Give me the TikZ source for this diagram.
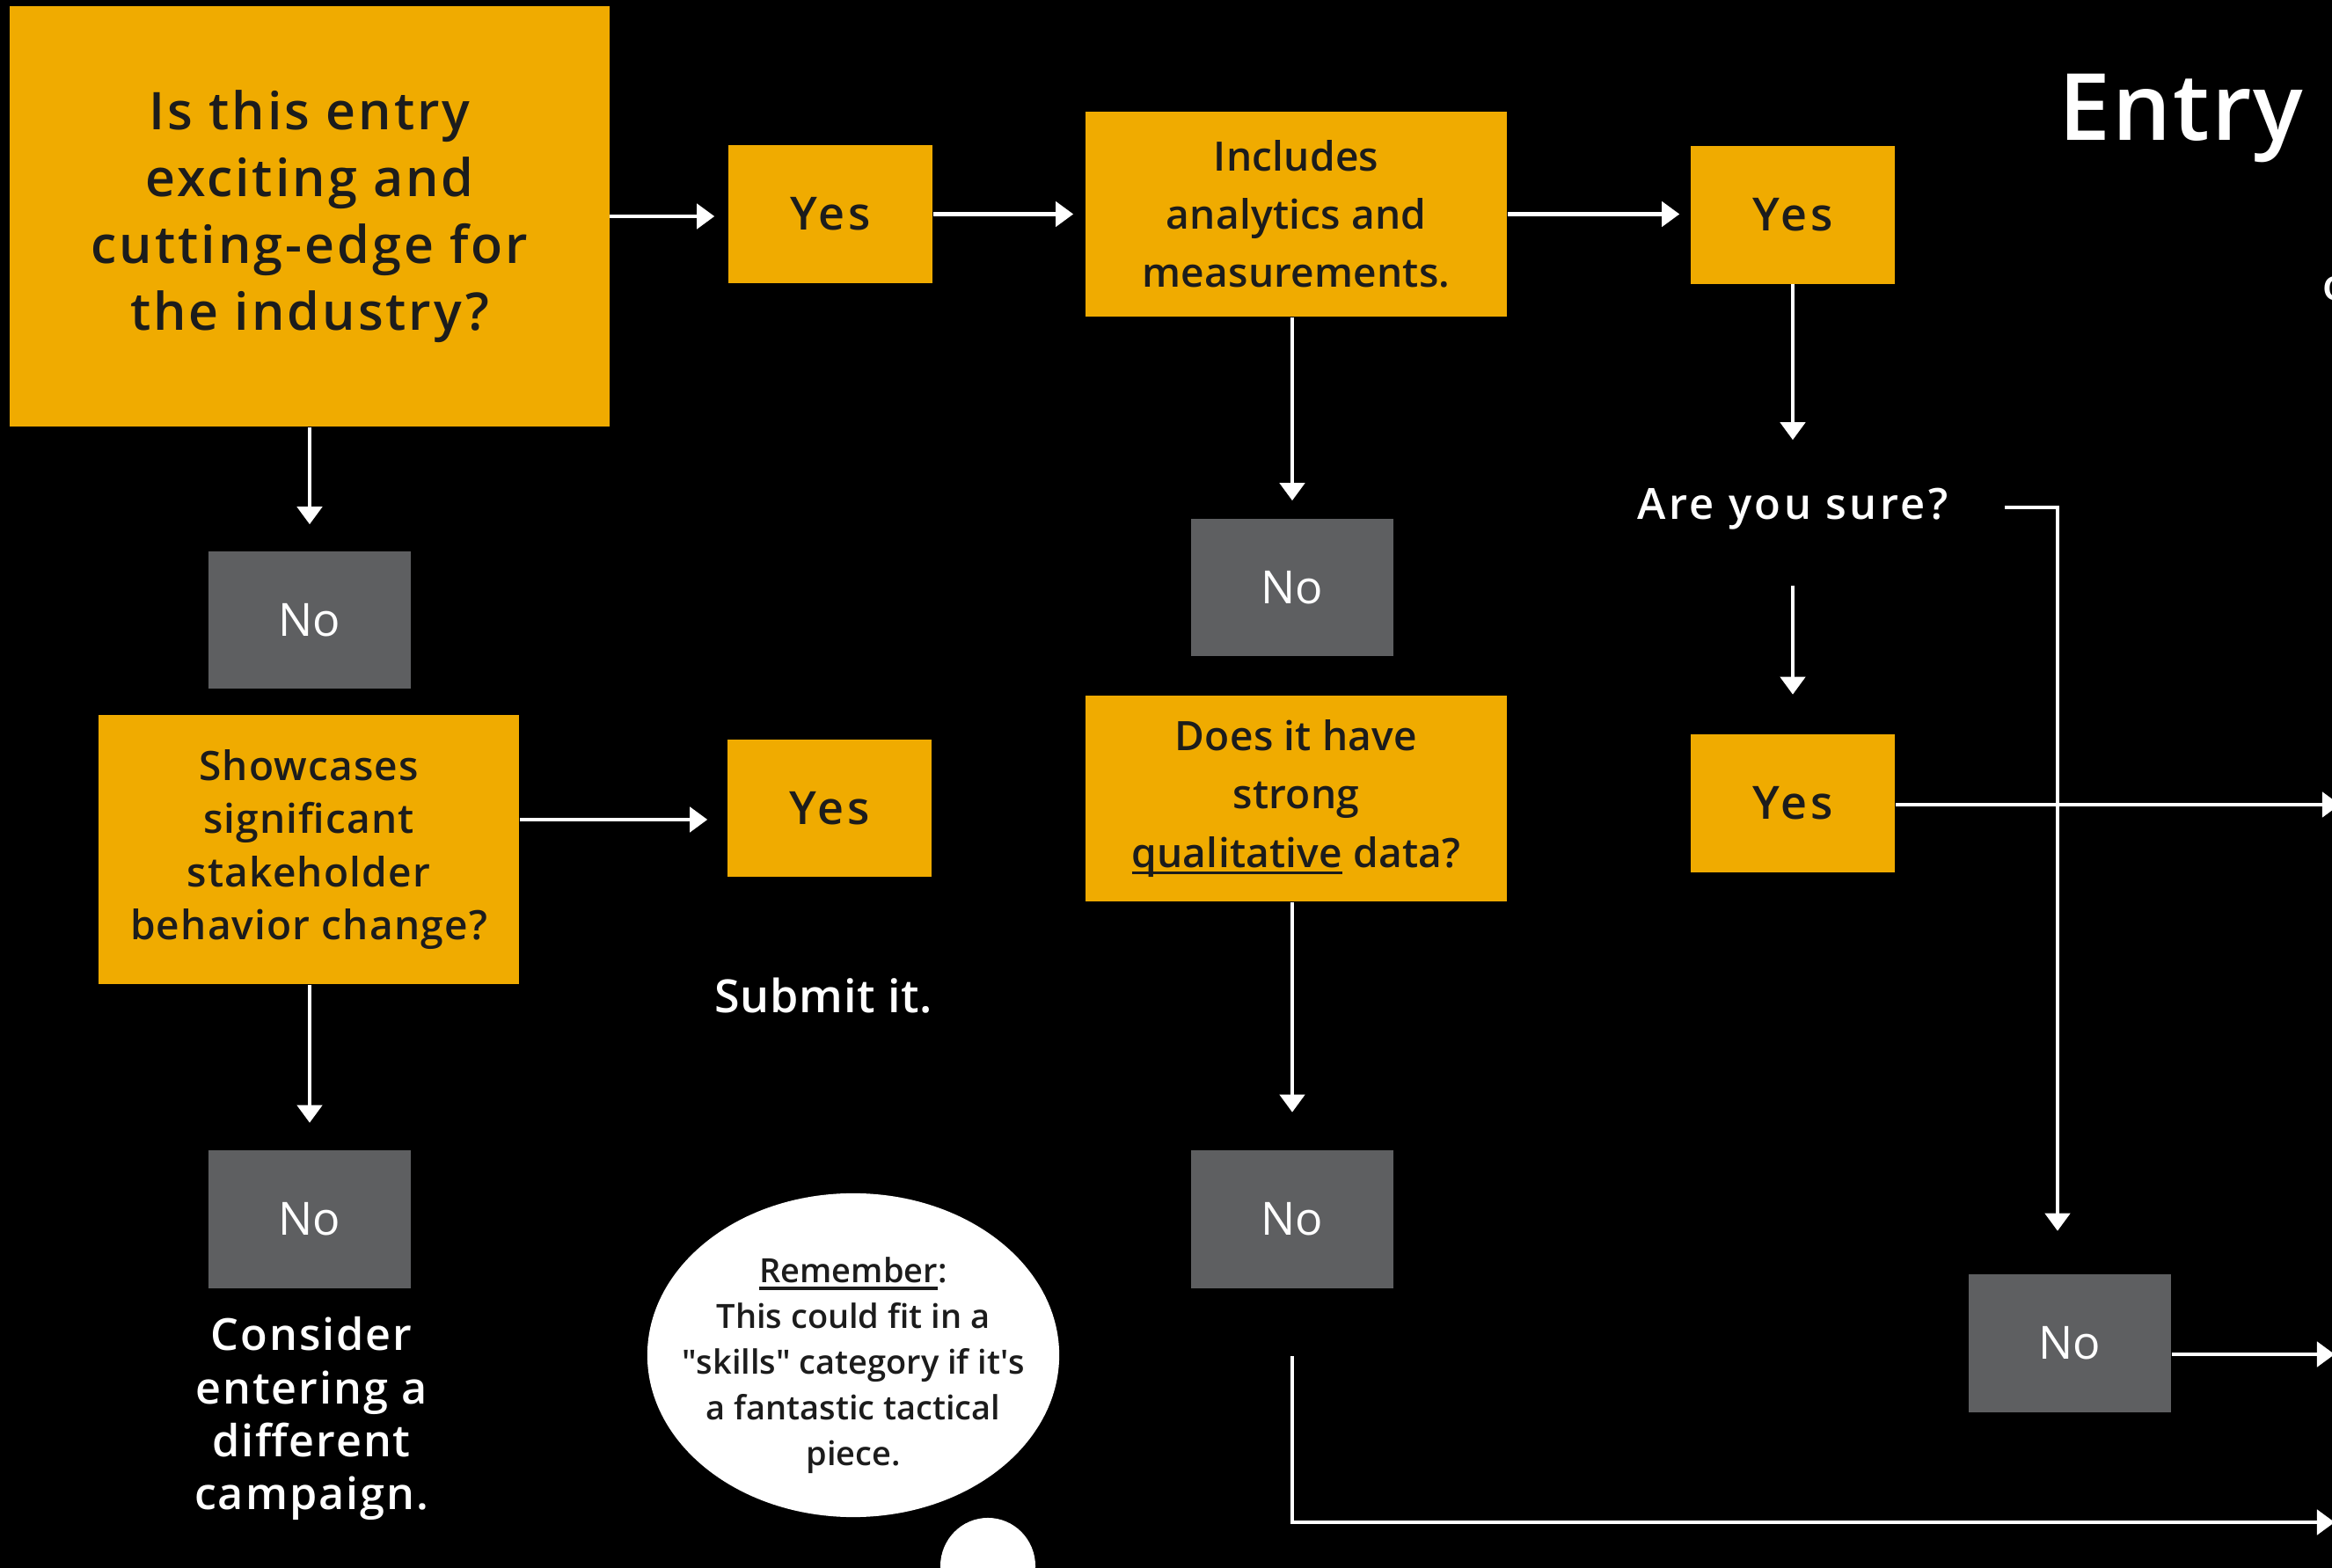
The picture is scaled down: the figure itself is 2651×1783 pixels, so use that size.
\documentclass[tikz,border=0pt]{standalone}
\usepackage{fontspec}
\setmainfont{Open Sans}[BoldFont={Open Sans Semibold}]
\usetikzlibrary{arrows.meta}

\newcommand{\ulword}[1]{\setbox0\hbox{#1}\rlap{\rule[-2.2pt]{\wd0}{0.9pt}}\box0}
\newcommand{\track}[1]{\addfontfeature{LetterSpace=#1}}

\begin{document}
\begin{tikzpicture}[x=0.01cm,y=-0.01cm,
  qbox/.style={fill=amber,text=ink,align=center,inner sep=0pt},
  yesbox/.style={fill=amber,text=ink,minimum width=2.32cm,minimum height=1.56cm,inner sep=0pt,
    font=\fontsize{14.8}{17}\selectfont\bfseries\track{8}},
  nobox/.style={fill=slate,text=white,minimum width=2.3cm,minimum height=1.56cm,inner sep=0pt,
    font=\fontsize{14.8}{17}\selectfont},
  note/.style={text=white,align=center,inner sep=0pt},
  link/.style={draw=white,line width=1.2pt,-{Triangle[length=5.7pt,width=8pt]}}]
\clip (0,0) rectangle (2651,1783);

\definecolor{amber}{RGB}{240,171,0}
\definecolor{slate}{RGB}{94,95,97}
\definecolor{ink}{RGB}{28,28,28}

\fill[black] (0,0) rectangle (2651,1783);

\node[note,anchor=base west,font=\fontsize{30}{36}\selectfont\bfseries\track{2}] (title) at (2340,160) {Entry};
\node[note,anchor=base west,font=\fontsize{14}{17}\selectfont\bfseries] (subtitle) at (2640,342) {o};

\node[qbox,minimum width=6.81cm,minimum height=4.78cm,font=\fontsize{16.8}{21.6}\selectfont\bfseries\track{5}]
  (q1) at (352,246) {Is this entry\\exciting and\\cutting-edge for\\the industry?};
\node[qbox,minimum width=4.79cm,minimum height=2.33cm,font=\fontsize{13.1}{18.8}\selectfont\bfseries\track{0.5}]
  (q2) at (1473.5,243.5) {Includes\\analytics and\\measurements.};
\node[qbox,minimum width=4.78cm,minimum height=3.06cm,font=\fontsize{13.1}{17.1}\selectfont\bfseries\track{2.5}]
  (q3) at (351,966) {Showcases\\significant\\stakeholder\\behavior change?};
\node[qbox,minimum width=4.79cm,minimum height=2.34cm,font=\fontsize{13.1}{18.8}\selectfont\bfseries\track{0.5}]
  (q4) at (1473.5,908) {Does it have\\strong\\\ulword{qualitative}\ data?};

\foreach \name/\x/\y in {yes1/944/243.5,yes2/2038/244.5,yes3/943/919,yes4/2038/913.5}
  \node[yesbox] (\name) at (\x,\y) {Yes};

\foreach \name/\x/\y in {no1/352/705,no2/1469/668,no3/352/1386.5,no4/1469/1386.5,no5/2353/1527.5}
  \node[nobox] (\name) at (\x,\y) {No};

\node[note,minimum width=4cm,minimum height=0.9cm,font=\fontsize{13.9}{17}\selectfont\bfseries\track{7}]
  (sure) at (2038,579) {Are you sure?};
\node[note,anchor=base,font=\fontsize{14.8}{17}\selectfont\bfseries\track{1.5}] (submit) at (936,1152) {Submit it.};
\node[note,font=\fontsize{14.3}{17.1}\selectfont\bfseries\track{3.8}] (consider) at (354,1613)
  {Consider\\entering a\\different\\campaign.};

% thought bubble
\fill[white] (970,1541) ellipse [x radius=2.34cm,y radius=1.84cm];
\fill[white] (1123,1781) circle [x radius=0.54cm,y radius=0.55cm];
\node[text=ink,align=center,inner sep=0pt,font=\fontsize{10.8}{14.8}\selectfont\bfseries] (bubble) at (970,1553)
  {\ulword{Remember}:\\This could fit in a\\\textquotedbl skills\textquotedbl{} category if it\textquotesingle s\\a fantastic tactical\\piece.};

\coordinate (bend) at (2339,577);
\coordinate (exitA) at (2660,915);
\coordinate (exitB) at (2654,1540);
\coordinate (exitC) at (2654,1731);

\draw[link,shorten >=0.15cm] (q1.east) -- (q1.east -| yes1.west);
\draw[link,shorten >=0.13cm] (yes1.east) -- (yes1.east -| q2.west);
\draw[link,shorten >=0.12cm] (q2.east) -- (q2.east -| yes2.west);
\draw[link,shorten >=0.33cm] (yes2.south) -- (sure.north);
\draw[link,shorten <=0.41cm,shorten >=0.45cm] (sure.south) -- (yes4.north);
\draw[link,shorten <=0.40cm,shorten >=0.49cm] (sure.east |- bend) -- (bend) -- (bend |- no5.north);
\draw[link] (yes4.east |- exitA) -- (exitA);
\draw[link] (no5.east |- exitB) -- (exitB);
\draw[link,shorten <=0.77cm] (no4.south) |- (exitC);

\draw[link,shorten >=0.30cm] (q1.south -| no1.north) -- (no1.north);
\draw[link,shorten >=0.20cm] (q2.south -| no2.north) -- (no2.north);
\draw[link,shorten >=0.22cm] ([yshift=0.34cm]q3.east) -- ([yshift=0.34cm]q3.east -| yes3.west);
\draw[link,shorten >=0.31cm] (q3.south -| no3.north) -- (no3.north);
\draw[link,shorten >=0.43cm] (q4.south -| no4.north) -- (no4.north);

\end{tikzpicture}
\end{document}
